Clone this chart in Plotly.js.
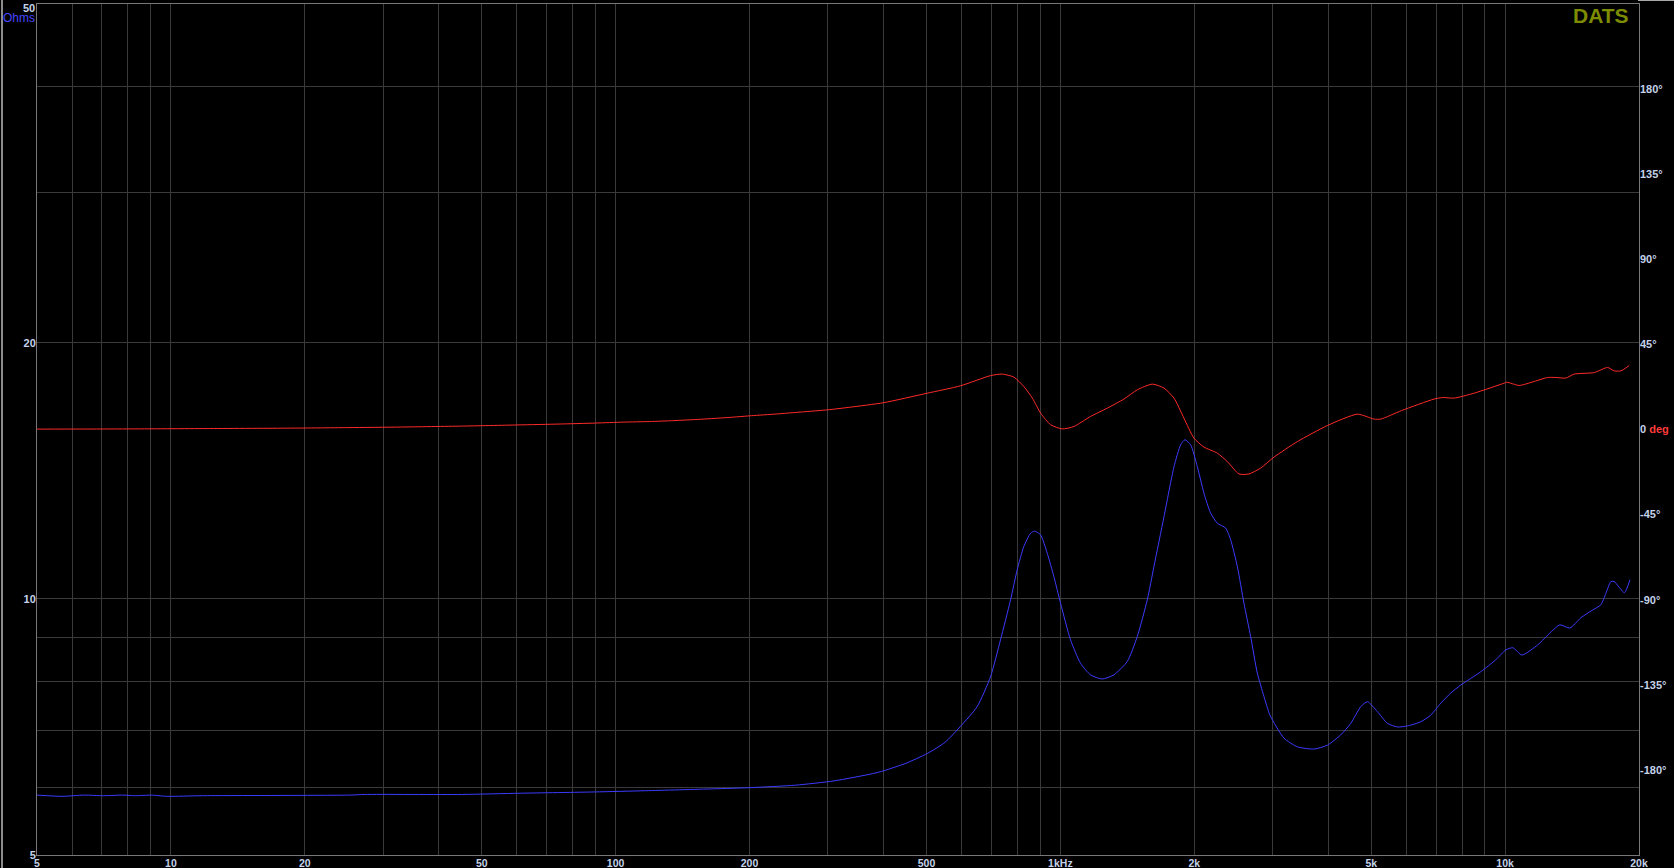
<!DOCTYPE html>
<html>
<head>
<meta charset="utf-8">
<script src="https://cdn.plot.ly/plotly-3.0.1.min.js"></script>
<style>
  html, body { margin: 0; padding: 0; background: #000; }
  #wrap { position: relative; width: 1674px; height: 868px; overflow: hidden; background: #000; }
  #chart { position: absolute; left: 0; top: 0; width: 1674px; height: 868px; }
  #edgeL { position: absolute; left: 1px; top: 0; width: 2px; height: 868px; background: #8c8c8c; }
  #edgeT { position: absolute; left: 1638px; top: 0; width: 36px; height: 1px; background: #a8a8a8; }
</style>
</head>
<body>
<div id="wrap">
  <div id="chart"></div>
  <div id="edgeL"></div>
  <div id="edgeT"></div>
</div>
<script>
// Impedance magnitude (Ohms) vs frequency (Hz)
const impFreq = [5, 5.69, 6.38, 7.05, 7.79, 8.32, 9.03, 9.81, 11.8, 25.2, 27.3, 45, 61.4, 89.7, 116.9, 165.4, 201.6, 254, 309.8, 377.6, 400.7, 450, 501.8, 550, 596, 650, 696.5, 733.5, 772.6, 799.8, 827.6, 857, 875, 902.6, 934.4, 967, 1001, 1054, 1110, 1169, 1242, 1319, 1414, 1489, 1568, 1623, 1710, 1801, 1864, 1906, 1963, 2032, 2103, 2177, 2254, 2353, 2415, 2500, 2587, 2678, 2772, 2869, 2960, 3183, 3411, 3718, 3985, 4270, 4498, 4736, 4903, 5163, 5438, 5727, 6032, 6461, 6805, 7167, 7548, 7950, 8818, 9528, 10038, 10409, 10906, 11844, 12673, 13279, 13984, 14803, 15669, 16417, 16848, 17290, 17588, 18542, 19088];
const impOhms = [5.88, 5.86, 5.88, 5.87, 5.88, 5.87, 5.88, 5.86, 5.87, 5.88, 5.89, 5.89, 5.91, 5.93, 5.95, 5.98, 6.00, 6.04, 6.11, 6.23, 6.28, 6.41, 6.58, 6.78, 7.08, 7.47, 8.10, 8.95, 9.97, 10.82, 11.52, 11.94, 12.01, 11.89, 11.31, 10.62, 9.88, 8.95, 8.40, 8.14, 8.05, 8.14, 8.44, 9.03, 9.97, 10.91, 12.49, 14.30, 15.17, 15.38, 15.17, 14.30, 13.31, 12.61, 12.27, 12.11, 11.73, 10.91, 9.88, 9.03, 8.18, 7.68, 7.30, 6.86, 6.70, 6.66, 6.73, 6.92, 7.14, 7.47, 7.57, 7.37, 7.14, 7.07, 7.09, 7.17, 7.30, 7.54, 7.75, 7.92, 8.21, 8.48, 8.71, 8.76, 8.59, 8.83, 9.14, 9.32, 9.24, 9.50, 9.69, 9.84, 10.15, 10.48, 10.48, 10.17, 10.53];

// Impedance phase (degrees) vs frequency (Hz)
const phaseFreq = [5, 8, 12, 18, 25, 33, 45, 60, 75, 90, 104, 119, 135, 155, 183, 202, 230, 263, 300, 337, 401, 502, 596, 697, 740, 786, 828, 865, 903, 951, 1010, 1073, 1169, 1275, 1390, 1489, 1610, 1710, 1801, 1896, 1997, 2103, 2254, 2374, 2521, 2655, 2821, 3022, 3411, 3985, 4656, 5073, 5252, 5850, 6922, 7230, 7679, 8517, 9950, 10091, 10754, 11623, 12459, 13006, 13697, 14299, 15857, 16997, 17588, 18208, 19008];
const phaseDeg = [0.2, 0.3, 0.5, 0.7, 1.0, 1.3, 1.8, 2.4, 2.9, 3.4, 3.9, 4.2, 4.7, 5.4, 6.5, 7.3, 8.2, 9.3, 10.4, 11.8, 14.2, 19.2, 23.1, 28.5, 29.3, 27.7, 22.7, 16.6, 8.6, 2.5, 0.3, 1.6, 6.9, 11.3, 16.1, 21.0, 24.0, 21.9, 16.6, 6.0, -4.6, -9.3, -12.5, -17.0, -23.5, -23.5, -20.4, -14.6, -6.4, 2.1, 8.1, 5.5, 5.5, 10.0, 16.1, 16.9, 16.6, 19.2, 24.5, 25.0, 23.3, 25.4, 27.5, 27.5, 27.2, 29.3, 30.1, 32.8, 31.0, 31.0, 33.8];

// Axis ticks / gridlines
const xGridVals = [5, 6, 7, 8, 9, 10, 20, 30, 40, 50, 60, 70, 80, 90, 100, 200, 300, 400, 500, 600, 700, 800, 900, 1000, 2000, 3000, 4000, 5000, 6000, 7000, 8000, 9000, 10000, 20000];
const xLabelMap = {5: '5', 10: '10', 20: '20', 50: '50', 100: '100', 200: '200', 500: '500', 1000: '1kHz', 2000: '2k', 5000: '5k', 10000: '10k', 20000: '20k'};
const yGridVals = [5, 6, 7, 8, 9, 10, 20, 30, 40];
const yLabelMap = {5: '5', 10: '10', 20: '20'};
const phaseTickVals = [-180, -135, -90, -45, 0, 45, 90, 135, 180];
const phaseTickText = ['-180°', '-135°', '-90°', '-45°', '0 <span style="color:#ff3b3b">deg</span>', '45°', '90°', '135°', '180°'];

const labelColor = '#c4d2ea';
const gridColor = '#3a3a3a';
const tickFont = {family: '"Liberation Sans", Arial, sans-serif', size: 11, color: labelColor, weight: 'bold'};
const xTickFont = {family: '"Liberation Sans", Arial, sans-serif', size: 10.5, color: labelColor, weight: 'bold'};

const traces = [
  {
    x: phaseFreq, y: phaseDeg, type: 'scatter', mode: 'lines', yaxis: 'y2',
    line: {color: '#ff2a2a', width: 1, shape: 'spline', smoothing: 0.6},
    hoverinfo: 'skip', showlegend: false
  },
  {
    x: impFreq, y: impOhms, type: 'scatter', mode: 'lines', yaxis: 'y',
    line: {color: '#3b3bff', width: 1, shape: 'spline', smoothing: 0.6},
    hoverinfo: 'skip', showlegend: false
  }
];

const layout = {
  width: 1674, height: 868,
  margin: {l: 37, r: 35, t: 4, b: 13, pad: 0},
  paper_bgcolor: '#000', plot_bgcolor: '#000',
  showlegend: false,
  xaxis: {
    type: 'log', range: [Math.log10(5), Math.log10(20000)],
    tickmode: 'array', tickvals: xGridVals,
    ticktext: xGridVals.map(v => xLabelMap[v] || ''),
    showgrid: true, gridcolor: gridColor, gridwidth: 1,
    showline: true, linecolor: '#787878', linewidth: 1, mirror: true,
    ticks: '', zeroline: false, tickfont: xTickFont, fixedrange: true,
    ticklabelstandoff: -2
  },
  yaxis: {
    type: 'log', range: [Math.log10(5), Math.log10(50)],
    tickmode: 'array', tickvals: yGridVals,
    ticktext: yGridVals.map(v => yLabelMap[v] || ''),
    showgrid: true, gridcolor: gridColor, gridwidth: 1,
    showline: true, linecolor: '#787878', linewidth: 1, mirror: true,
    ticks: '', zeroline: false, tickfont: tickFont, fixedrange: true,
    ticklabelstandoff: -2
  },
  yaxis2: {
    overlaying: 'y', side: 'right', range: [-225, 225],
    tickmode: 'array', tickvals: phaseTickVals, ticktext: phaseTickText,
    showgrid: false, zeroline: false, showline: false, ticks: '',
    tickfont: tickFont, fixedrange: true
  },
  annotations: [
    {xref: 'paper', yref: 'paper', x: 0, y: 1, xanchor: 'right', yanchor: 'top', xshift: -1, yshift: 3,
     borderpad: 0, text: '50', showarrow: false, font: tickFont},
    {xref: 'paper', yref: 'paper', x: 0, y: 1, xanchor: 'right', yanchor: 'top', xshift: -1, yshift: -6,
     borderpad: 0, text: 'Ohms', showarrow: false, font: {family: '"Liberation Sans", Arial, sans-serif', size: 12, color: '#4646ff'}},
    {xref: 'paper', yref: 'paper', x: 1, y: 1, xanchor: 'right', yanchor: 'top', xshift: -8, yshift: 2,
     text: 'DATS', showarrow: false, font: {family: '"Liberation Sans", Arial, sans-serif', size: 21, color: '#7d8c00', weight: 'bold'}}
  ]
};

Plotly.newPlot('chart', traces, layout, {staticPlot: true, displayModeBar: false});
</script>
</body>
</html>
